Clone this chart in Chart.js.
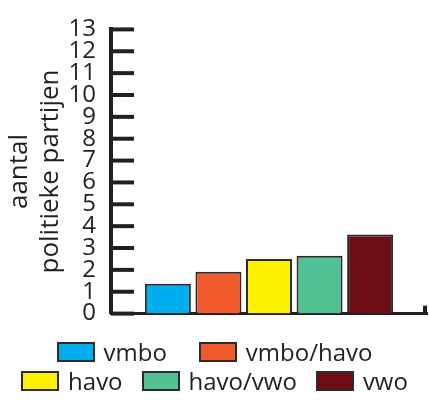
<!DOCTYPE html>
<html>
<head>
<meta charset="utf-8">
<script src="https://cdn.jsdelivr.net/npm/chart.js@4/dist/chart.umd.min.js"></script>
<style>
  html, body { margin: 0; padding: 0; background: #fff; }
  body { position: relative; width: 429px; height: 400px; overflow: hidden; font-family: "Open Sans", sans-serif; color: #231f20; }
  #wrap { position: absolute; left: 0; top: 0; width: 429px; height: 343px; }
  .row { position: absolute; left: 0; width: 429px; display: flex; justify-content: center; align-items: center; height: 30px; }
  .item { display: flex; align-items: center; font-size: 24px; line-height: 30px; }
  .box { width: 34px; height: 16px; border: 2px solid #2b2b2b; margin-right: 9px; }
</style>
</head>
<body>
<div id="wrap"><canvas id="chart"></canvas></div>
<div id="legend"></div>
<script>
// schooltypes en gemiddeld aantal politieke partijen
const levels = ['vmbo', 'vmbo/havo', 'havo', 'havo/vwo', 'vwo'];
const partyCounts = [1.37, 1.92, 2.5, 2.65, 3.62];
const levelColors = ['#00aeef', '#f15a2b', '#fff200', '#51c194', '#6d0e17'];
const yTicks = [0, 1, 2, 3, 4, 5, 6, 7, 8, 9, 10, 11, 12, 13];
const yTitle = ['aantal', 'politieke partijen'];
const legendRows = [['vmbo', 'vmbo/havo'], ['havo', 'havo/vwo', 'vwo']];

const ink = '#231f20';

// tick marks that point into the plot, plus the little end mark on the x-axis
const axisMarks = {
    id: 'axisMarks',
    afterDraw(chart) {
        const { ctx, chartArea } = chart;
        const y = chart.scales.y;
        ctx.save();
        ctx.strokeStyle = ink;
        ctx.lineWidth = 4;
        y.ticks.forEach((t, i) => {
            const py = y.getPixelForTick(i);
            ctx.beginPath();
            ctx.moveTo(chartArea.left, py);
            ctx.lineTo(chartArea.left + 23, py);
            ctx.stroke();
        });
        ctx.beginPath();
        ctx.moveTo(chartArea.right - 2, chartArea.bottom);
        ctx.lineTo(chartArea.right - 2, chartArea.bottom - 8);
        ctx.stroke();
        ctx.restore();
    }
};

new Chart(document.getElementById('chart').getContext('2d'), {
    type: 'bar',
    data: {
        labels: [''],
        datasets: levels.map((name, i) => ({
            label: name,
            data: [partyCounts[i]],
            backgroundColor: levelColors[i],
            borderColor: '#2b2b2b',
            borderWidth: 2,
            categoryPercentage: 0.8,
            barPercentage: 0.91
        }))
    },
    options: {
        responsive: true,
        maintainAspectRatio: false,
        animation: false,
        layout: { padding: { top: 18, right: 2, bottom: 0, left: 0 } },
        plugins: {
            legend: { display: false },
            tooltip: { enabled: false }
        },
        scales: {
            x: {
                grid: { display: false, drawTicks: false },
                ticks: { display: false },
                border: { display: true, color: ink, width: 3 }
            },
            y: {
                min: 0,
                max: 13,
                afterBuildTicks: s => { s.ticks = yTicks.map(v => ({ value: v })); },
                afterFit: s => { s.width = 111; },
                grid: { display: false, drawTicks: false },
                border: { display: true, color: ink, width: 4 },
                ticks: {
                    color: ink,
                    padding: 15,
                    autoSkip: false,
                    font: { family: 'Open Sans', size: 24, lineHeight: 1.2 }
                },
                title: {
                    display: true,
                    text: yTitle,
                    color: ink,
                    padding: { top: 4, bottom: 0 },
                    font: { family: 'Open Sans', size: 26, lineHeight: 1.2 }
                }
            }
        }
    },
    plugins: [axisMarks]
});

// legend built from the same arrays
const legend = document.getElementById('legend');
const rowTops = [337, 366];
const rowGaps = [32, 19];
legendRows.forEach((row, r) => {
    const div = document.createElement('div');
    div.className = 'row';
    div.style.top = rowTops[r] + 'px';
    div.style.gap = rowGaps[r] + 'px';
    row.forEach(name => {
        const i = levels.indexOf(name);
        const item = document.createElement('div');
        item.className = 'item';
        const box = document.createElement('span');
        box.className = 'box';
        box.style.background = levelColors[i];
        item.appendChild(box);
        item.appendChild(document.createTextNode(name));
        div.appendChild(item);
    });
    legend.appendChild(div);
});
</script>
</body>
</html>
